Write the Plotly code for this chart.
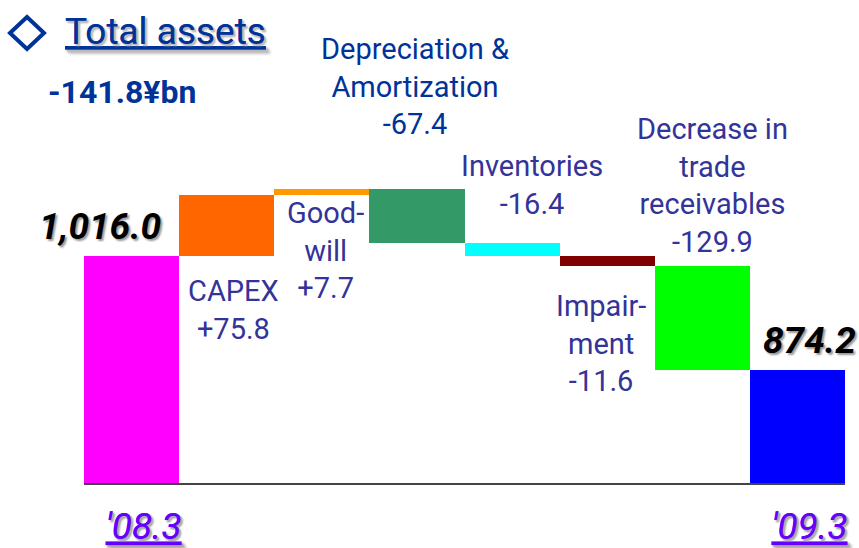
import plotly.graph_objects as go

# data (¥bn)
categories = ["'08.3", "CAPEX", "Goodwill", "Depreciation & Amortization",
              "Inventories", "Impairment", "Decrease in trade receivables", "'09.3"]
start_value = 1016.0
changes = [75.8, 7.7, -67.4, -16.4, -11.6, -129.9]
end_value = 874.2
tick_labels = ["'08.3", "'09.3"]
step_labels = ["CAPEX<br>+75.8", "Good-<br>will<br>+7.7",
               "Depreciation &<br>Amortization<br>-67.4", "Inventories<br>-16.4",
               "Impair-<br>ment<br>-11.6", "Decrease in<br>trade<br>receivables<br>-129.9"]
bar_colors = ["#ff00ff", "#ff6600", "#ff9900", "#339966",
              "#00ffff", "#800000", "#00ff00", "#0000ff"]

# build floating bars
bases = [0]
heights = [start_value]
level = start_value
for c in changes:
    bases.append(min(level, level + c))
    heights.append(abs(c))
    level += c
bases.append(0)
heights.append(end_value)

W, H = 859, 548
L, R, T, B = 84, 14, 20, 65
plot_h = H - T - B
px_per_unit = 114 / (start_value - end_value)
y_lo = start_value - 227 / px_per_unit
y_hi = y_lo + plot_h / px_per_unit


def py(p):
    # pixel row -> paper y
    return (H - B - p) / plot_h


def pxx(p):
    return (p - L) / (W - L - R)


FONT = "Roboto, Liberation Sans, sans-serif"

fig = go.Figure(go.Bar(
    x=categories, y=heights, base=bases,
    marker=dict(color=bar_colors, line=dict(width=0)),
    width=1.0, hoverinfo="skip",
))

# step labels: x centre / y centre in pixels
label_pos = [(233, 310), (325, 250), (415, 87), (532, 185), (601, 343), (712, 185)]
label_cols = ["#333399", "#333399", "#003399", "#333399", "#333399", "#333399"]
annotations = []
for txt, (lx, ly), col in zip(step_labels, label_pos, label_cols):
    annotations.append(dict(
        x=pxx(lx), y=py(ly), xref="paper", yref="paper", text=txt,
        showarrow=False, xanchor="center", yanchor="middle", align="center",
        font=dict(family=FONT, size=29, color=col),
    ))

# totals on top of first / last bar
for cat, val, dx in [(categories[0], start_value, -32), (categories[-1], end_value, 12)]:
    annotations.append(dict(
        x=cat, y=val, xref="x", yref="y", text=f"{val:,.1f}",
        showarrow=False, xanchor="center", yanchor="bottom", xshift=dx, yshift=6,
        font=dict(family=FONT, size=37, color="black", style="italic", weight="bold",
                  shadow="2px 2px 2px #999"),
    ))

annotations.append(dict(
    x=pxx(63), y=py(31), xref="paper", yref="paper", text="Total assets",
    showarrow=False, xanchor="left", yanchor="middle",
    font=dict(family=FONT, size=37, color="#003399", lineposition="under",
              shadow="2px 2px 2px #bbb"),
))
annotations.append(dict(
    x=pxx(46), y=py(92), xref="paper", yref="paper", text="-141.8¥bn",
    showarrow=False, xanchor="left", yanchor="middle",
    font=dict(family=FONT, size=32, color="#003399", weight="bold"),
))

fig.update_layout(
    width=W, height=H,
    margin=dict(l=L, r=R, t=T, b=B),
    paper_bgcolor="white", plot_bgcolor="white",
    bargap=0, showlegend=False,
    annotations=annotations,
    shapes=[dict(
        type="path", xref="paper", yref="paper",
        path=f"M {pxx(10)} {py(33)} L {pxx(27)} {py(17)} L {pxx(44)} {py(33)} "
             f"L {pxx(27)} {py(49)} Z",
        line=dict(color="#003399", width=4), fillcolor="rgba(0,0,0,0)",
    )],
)
fig.update_xaxes(
    range=[-0.5, len(categories) - 0.5], automargin=False,
    showgrid=False, showline=True, linecolor="#444", linewidth=2,
    tickmode="array", tickvals=[categories[0], categories[-1]], ticktext=tick_labels,
    ticks="", ticklabelstandoff=10, ticklabelshift=12,
    tickfont=dict(family=FONT, size=37, color="#6600ff", style="italic",
                  lineposition="under", shadow="2px 2px 2px #aaa"),
)
fig.update_yaxes(visible=False, range=[y_lo, y_hi], showgrid=False, automargin=False)

# page has a default body margin; drop it so the figure fills the window
fig.write_html("out.html", config={"displayModeBar": False},
               post_script="document.body.style.margin='0px';")
